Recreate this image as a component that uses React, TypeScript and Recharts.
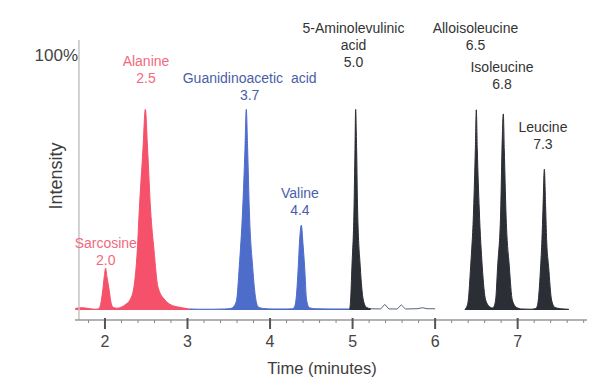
import React from 'react';
import { ComposedChart, Area, Line, XAxis, YAxis, ReferenceLine, Scatter } from 'recharts';

// retention time (minutes) and intensity (% of full scale)
const redTrace = [
  { t: 1.64, v: 0.6 }, { t: 1.7, v: 0.9 }, { t: 1.76, v: 0.8 }, { t: 1.82, v: 0.5 }, { t: 1.88, v: 0.3 },
  { t: 1.925, v: 0.5 }, { t: 1.939, v: 1.2 }, { t: 1.955, v: 3.5 }, { t: 1.976, v: 8.5 }, { t: 1.993, v: 13.5 },
  { t: 2.008, v: 16.4 }, { t: 2.024, v: 13 }, { t: 2.048, v: 8.5 }, { t: 2.07, v: 3.5 }, { t: 2.101, v: 1.0 },
  { t: 2.145, v: 0.7 }, { t: 2.202, v: 1.2 }, { t: 2.25, v: 2.2 }, { t: 2.303, v: 3.9 }, { t: 2.351, v: 9 },
  { t: 2.392, v: 23.5 }, { t: 2.416, v: 39.2 }, { t: 2.46, v: 62.8 }, { t: 2.489, v: 78.7 }, { t: 2.517, v: 62.8 },
  { t: 2.553, v: 39.2 }, { t: 2.594, v: 23.5 }, { t: 2.642, v: 9 }, { t: 2.727, v: 3.9 }, { t: 2.8, v: 2.0 },
  { t: 2.884, v: 1.2 }, { t: 2.95, v: 0.8 }, { t: 3.02, v: 0.4 },
];

const blueTrace = [
  { t: 3.02, v: 0.4 }, { t: 3.15, v: 0.3 }, { t: 3.3, v: 0.3 }, { t: 3.45, v: 0.4 }, { t: 3.52, v: 0.6 },
  { t: 3.555, v: 1.2 }, { t: 3.595, v: 3.9 }, { t: 3.627, v: 17 }, { t: 3.668, v: 39.2 }, { t: 3.696, v: 62.8 },
  { t: 3.712, v: 78.7 }, { t: 3.729, v: 62.8 }, { t: 3.749, v: 39.2 }, { t: 3.789, v: 17 }, { t: 3.829, v: 3.9 },
  { t: 3.858, v: 1.2 }, { t: 3.92, v: 0.6 }, { t: 4.05, v: 0.4 }, { t: 4.2, v: 0.4 }, { t: 4.27, v: 0.5 },
  { t: 4.29, v: 0.9 }, { t: 4.314, v: 3.9 }, { t: 4.342, v: 17 }, { t: 4.356, v: 26 }, { t: 4.379, v: 33.3 },
  { t: 4.399, v: 26 }, { t: 4.419, v: 17 }, { t: 4.443, v: 3.9 }, { t: 4.476, v: 0.9 }, { t: 4.55, v: 0.5 },
  { t: 4.75, v: 0.4 }, { t: 4.96, v: 0.4 },
];

const blackEarly = [
  { t: 4.96, v: 0.4 }, { t: 4.968, v: 1.0 }, { t: 4.976, v: 3.9 }, { t: 4.992, v: 17 }, { t: 5.017, v: 39.2 },
  { t: 5.029, v: 62.8 }, { t: 5.037, v: 78.7 }, { t: 5.049, v: 62.8 }, { t: 5.061, v: 39.2 }, { t: 5.093, v: 17 },
  { t: 5.13, v: 3.9 }, { t: 5.17, v: 1.0 }, { t: 5.22, v: 0.5 },
];

const baselineTrace = [
  { t: 5.22, v: 0.5 }, { t: 5.34, v: 0.4 }, { t: 5.39, v: 2.2 }, { t: 5.44, v: 0.4 }, { t: 5.54, v: 0.4 },
  { t: 5.59, v: 2.0 }, { t: 5.64, v: 0.4 }, { t: 5.78, v: 0.5 }, { t: 5.85, v: 0.9 }, { t: 5.9, v: 0.5 },
  { t: 6.0, v: 0.5 },
];

const blackLate = [
  { t: 6.36, v: 0.3 }, { t: 6.382, v: 1.2 }, { t: 6.402, v: 3.9 }, { t: 6.43, v: 17 }, { t: 6.466, v: 39.2 },
  { t: 6.487, v: 62.8 }, { t: 6.499, v: 78.5 }, { t: 6.511, v: 62.8 }, { t: 6.535, v: 39.2 }, { t: 6.571, v: 17 },
  { t: 6.612, v: 3.9 }, { t: 6.664, v: 1.2 }, { t: 6.688, v: 0.8 }, { t: 6.705, v: 1.0 }, { t: 6.733, v: 3.9 },
  { t: 6.757, v: 17 }, { t: 6.794, v: 38.4 }, { t: 6.81, v: 62.8 }, { t: 6.826, v: 76.9 }, { t: 6.838, v: 62.8 },
  { t: 6.858, v: 38.4 }, { t: 6.899, v: 17 }, { t: 6.935, v: 3.9 }, { t: 6.987, v: 1.0 }, { t: 7.05, v: 0.4 },
  { t: 7.15, v: 0.3 }, { t: 7.21, v: 0.5 }, { t: 7.23, v: 1.0 }, { t: 7.25, v: 3.9 }, { t: 7.278, v: 17 },
  { t: 7.294, v: 27.6 }, { t: 7.307, v: 40 }, { t: 7.323, v: 55.2 }, { t: 7.339, v: 40 }, { t: 7.351, v: 27.6 },
  { t: 7.375, v: 17 }, { t: 7.411, v: 3.9 }, { t: 7.452, v: 1.0 }, { t: 7.52, v: 0.5 }, { t: 7.62, v: 0.3 },
];

// peak annotations
const peakNames = [
  ['Sarcosine', '2.0'],
  ['Alanine', '2.5'],
  ['Guanidinoacetic  acid', '3.7'],
  ['Valine', '4.4'],
  ['5-Aminolevulinic', 'acid', '5.0'],
  ['Alloisoleucine', '6.5'],
  ['Isoleucine', '6.8'],
  ['Leucine', '7.3'],
];
const peakLabelTimes = [2.01, 2.497, 3.753, 4.362, 5.011, 6.489, 6.81, 7.306];
const peakLabelLevels = [26.3, 97.6, 91.0, 46.0, 110.6, 110.6, 95.3, 71.8];
const peakGroups = ['red', 'red', 'blue', 'blue', 'black', 'black', 'black', 'black'];

// axis ticks
const majorTicks = [2, 3, 4, 5, 6, 7];
const minorTicks = [1.8, 2.2, 2.4, 2.6, 2.8, 3.2, 3.4, 3.6, 3.8, 4.2, 4.4, 4.6, 4.8, 5.2, 5.4, 5.6, 5.8, 6.2, 6.4, 6.6, 6.8, 7.2, 7.4, 7.6, 7.8];
const yTicks = [100];

const fillColors: Record<string, string> = { red: '#f5516b', blue: '#4e6dcb', black: '#2b2e35' };
const textColors: Record<string, string> = { red: '#f06a80', blue: '#4a5ea8', black: '#333333' };

const seriesMap: Record<string, { t: number; v: number }[]> = {
  red: redTrace,
  blue: blueTrace,
  blackEarly: blackEarly,
  trace: baselineTrace,
  blackLate: blackLate,
};

function buildTable() {
  const rows = new Map<number, any>();
  Object.keys(seriesMap).forEach((key) => {
    seriesMap[key].forEach((p) => {
      const row = rows.get(p.t) || { t: p.t };
      row[key] = p.v;
      rows.set(p.t, row);
    });
  });
  return Array.from(rows.values()).sort((a, b) => a.t - b.t);
}
const table = buildTable();

const labelRows = peakNames.map((lines, i) => ({
  t: peakLabelTimes[i],
  level: peakLabelLevels[i],
  lines,
  group: peakGroups[i],
}));

const allTicks = [...majorTicks, ...minorTicks].sort((a, b) => a - b);

const XTick = (props: any) => {
  const { x, y, payload } = props;
  const v = payload.value;
  const isMajor = majorTicks.some((m) => Math.abs(m - v) < 1e-6);
  if (isMajor) {
    return (
      <g>
        <line x1={x} x2={x} y1={y - 2} y2={y + 9} stroke="#555" strokeWidth={2} />
        <text x={x} y={y + 27} textAnchor="middle" fontSize={16} fill="#444">
          {v}
        </text>
      </g>
    );
  }
  return <line x1={x} x2={x} y1={y} y2={y + 3} stroke="#888" strokeWidth={1} />;
};

const PeakLabel = (props: any) => {
  const { cx, cy, payload } = props;
  if (cx == null || cy == null) return null;
  const color = textColors[payload.group];
  return (
    <text x={cx} y={cy + 5} textAnchor="middle" fontSize={14} fill={color} style={{ whiteSpace: 'pre' }}>
      {payload.lines.map((ln: string, i: number) => (
        <tspan key={i} x={cx} dy={i === 0 ? 0 : 17}>
          {ln}
        </tspan>
      ))}
    </text>
  );
};

const XTitle = (props: any) => {
  const vb = props.viewBox || { x: 75, y: 320, width: 512, height: 60 };
  return (
    <text x={vb.x + vb.width / 2 - 9} y={vb.y + 54} textAnchor="middle" fontSize={16.5} fill="#3d3d3d">
      Time (minutes)
    </text>
  );
};

const YTitle = (props: any) => {
  const vb = props.viewBox || { x: 0, y: 10, width: 75, height: 310 };
  const x = vb.x + 62;
  const y = vb.y + vb.height / 2 + 11;
  return (
    <text x={x} y={y} textAnchor="middle" fontSize={18} fill="#3d3d3d" transform={`rotate(-90 ${x} ${y})`}>
      Intensity
    </text>
  );
};

export default function App() {
  return (
    <div
      style={{
        position: 'absolute',
        left: 0,
        top: 0,
        width: 600,
        height: 380,
        background: '#ffffff',
        fontFamily: '"Liberation Sans", Arial, sans-serif',
      }}
    >
      <ComposedChart width={600} height={380} data={table} margin={{ top: 10, right: 13, bottom: 0, left: 0 }}>
        <XAxis
          type="number"
          dataKey="t"
          domain={[1.637, 7.84]}
          allowDataOverflow
          ticks={allTicks}
          interval={0}
          height={60}
          axisLine={{ stroke: '#9a9a9a', strokeWidth: 1.3 }}
          tickLine={false}
          tickSize={0}
          tickMargin={0}
          tick={<XTick />}
          label={{ content: <XTitle /> }}
        />
        <YAxis
          type="number"
          domain={[-3.92, 117.65]}
          allowDataOverflow
          ticks={yTicks}
          tickFormatter={(v: number) => `${v}%`}
          width={75}
          axisLine={false}
          tickLine={false}
          tickSize={0}
          tickMargin={0}
          tick={{ fill: '#444', fontSize: 17, dx: 3 }}
          label={{ content: <YTitle /> }}
        />
        <ReferenceLine
          segment={[
            { x: 1.685, y: -3.92 },
            { x: 1.685, y: 105.88 },
          ]}
          stroke="#c4c4c4"
          strokeWidth={1.5}
          ifOverflow="visible"
        />
        <Area
          dataKey="red"
          type="monotone"
          baseValue={0}
          stroke={fillColors.red}
          strokeWidth={1}
          fill={fillColors.red}
          fillOpacity={1}
          connectNulls
          dot={false}
          activeDot={false}
          isAnimationActive={false}
        />
        <Area
          dataKey="blue"
          type="monotone"
          baseValue={0}
          stroke={fillColors.blue}
          strokeWidth={1}
          fill={fillColors.blue}
          fillOpacity={1}
          connectNulls
          dot={false}
          activeDot={false}
          isAnimationActive={false}
        />
        <Area
          dataKey="blackEarly"
          type="monotone"
          baseValue={0}
          stroke={fillColors.black}
          strokeWidth={1}
          fill={fillColors.black}
          fillOpacity={1}
          connectNulls
          dot={false}
          activeDot={false}
          isAnimationActive={false}
        />
        <Line
          dataKey="trace"
          type="linear"
          stroke="#56607f"
          strokeWidth={1}
          connectNulls
          dot={false}
          activeDot={false}
          isAnimationActive={false}
        />
        <Area
          dataKey="blackLate"
          type="monotone"
          baseValue={0}
          stroke={fillColors.black}
          strokeWidth={1}
          fill={fillColors.black}
          fillOpacity={1}
          connectNulls
          dot={false}
          activeDot={false}
          isAnimationActive={false}
        />
        <Scatter data={labelRows} dataKey="level" shape={(p: any) => <PeakLabel {...p} />} isAnimationActive={false} />
      </ComposedChart>
    </div>
  );
}
